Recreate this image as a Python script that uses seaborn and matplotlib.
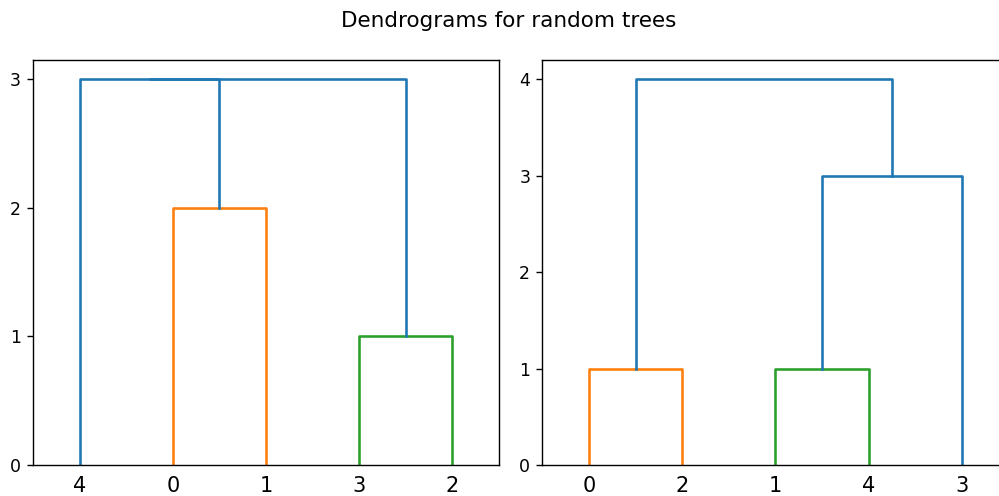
import matplotlib
matplotlib.use("Agg")
import matplotlib.pyplot as plt
import seaborn as sns

# ---- data ----
title = "Dendrograms for random trees"

left_leaves = ["4", "0", "1", "3", "2"]
# merges: (left child, right child, height, colour); ids >= n_leaves refer to earlier merges
left_merges = [("0", "1", 2.0, "C1"),
               ("3", "2", 1.0, "C2"),
               ("4", 5, 3.0, "C0"),
               (7, 6, 3.0, "C0")]

right_leaves = ["0", "2", "1", "4", "3"]
right_merges = [("0", "2", 1.0, "C1"),
                ("1", "4", 1.0, "C2"),
                (6, "3", 3.0, "C0"),
                (5, 7, 4.0, "C0")]

left_yticks = [0, 1, 2, 3]
right_yticks = [0, 1, 2, 3, 4]

S = 1.25  # scale factor of the reference rendering


def draw(ax, leaves, merges, yticks):
    n = len(leaves)
    pos = {lab: 5 + 10 * i for i, lab in enumerate(leaves)}
    xpos = {}
    ypos = {}
    for lab in leaves:
        xpos[lab] = pos[lab]
        ypos[lab] = 0.0
    for k, (a, b, h, c) in enumerate(merges):
        xa, ya = xpos[a], ypos[a]
        xb, yb = xpos[b], ypos[b]
        xs = [xa, xa, xb, xb]
        ys = [ya, h, h, yb]
        sns.lineplot(x=xs, y=ys, sort=False, estimator=None, color=c,
                     linewidth=1.5 * S, ax=ax)
        nid = n + k
        xpos[nid] = (xa + xb) / 2
        ypos[nid] = h
    top = max(m[2] for m in merges)
    ax.set_xlim(0, 10 * n)
    ax.set_ylim(0, top * 1.05)
    ax.set_xticks([pos[l] for l in leaves])
    ax.set_xticklabels(leaves, fontsize=12 * S)
    ax.tick_params(axis="x", length=0, pad=3.5 * S + 3.5)
    ax.set_yticks(yticks)
    ax.tick_params(axis="y", labelsize=10 * S, length=3.5 * S, width=0.8 * S,
                   pad=3.5 * S)
    for sp in ax.spines.values():
        sp.set_linewidth(0.8 * S)
    ax.set_xlabel("")
    ax.set_ylabel("")


fig = plt.figure(figsize=(9.99, 4.96), dpi=100)
W, H = 999, 496
ax1 = fig.add_axes([33 / W, 31 / H, 466 / W, 405 / H])
ax2 = fig.add_axes([542.4 / W, 31 / H, 466 / W, 405 / H])
draw(ax1, left_leaves, left_merges, left_yticks)
draw(ax2, right_leaves, right_merges, right_yticks)
fig.text(508.5 / W, (H - 26.7) / H, title, ha="center", va="baseline", fontsize=15.5)
fig.savefig("out.png", dpi=100)
